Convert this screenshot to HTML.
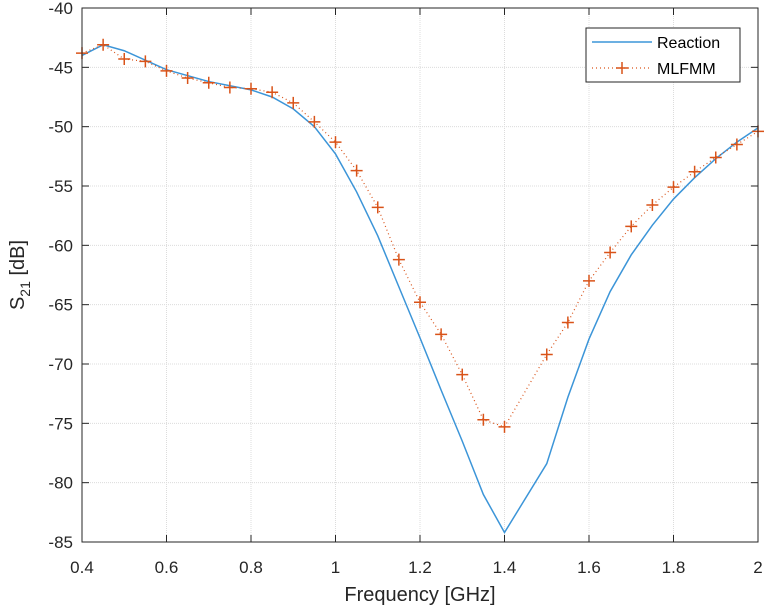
<!DOCTYPE html>
<html><head><meta charset="utf-8"><style>
body{margin:0;background:#fff;}
svg{display:block;font-family:"Liberation Sans",sans-serif;}
</style></head><body>
<svg id="chart" width="768" height="610">
<rect x="82" y="8" width="676" height="534" fill="#fff"/>
<g id="grid"></g>
<g id="series"></g>
<rect x="82" y="8" width="676" height="534" fill="none" stroke="#262626" stroke-width="1"/>
<g id="ticks"></g>
<text x="420" y="601" text-anchor="middle" font-size="20" fill="#262626">Frequency [GHz]</text>
<text transform="translate(24,275) rotate(-90)" text-anchor="middle" font-size="20" fill="#262626">S<tspan font-size="14" dy="6">21</tspan><tspan dy="-6"> [dB]</tspan></text>
<g>
<rect x="586" y="28" width="154" height="54" fill="#fff" stroke="#262626" stroke-width="1"/>
<line x1="592" y1="42" x2="652" y2="42" stroke="#3C95D8" stroke-width="1.5"/>
<text x="657" y="48" font-size="16" fill="#000">Reaction</text>
<line x1="592" y1="68" x2="652" y2="68" stroke="#D95319" stroke-width="1.2" stroke-dasharray="1,3"/>
<path d="M616 68h12M622 62v12" stroke="#D95319" stroke-width="1.5"/>
<text x="657" y="74" font-size="16" fill="#000">MLFMM</text>
</g>
</svg>
<script>
const reactionX=[0.4,0.45,0.5,0.6,0.7,0.8,0.85,0.9,0.95,1.0,1.05,1.1,1.15,1.2,1.25,1.3,1.35,1.4,1.5,1.55,1.6,1.65,1.7,1.75,1.8,1.85,1.9,1.95,2.0];
const reactionY=[-44,-43.1,-43.6,-45.2,-46.2,-46.9,-47.5,-48.5,-50,-52.3,-55.5,-59.2,-63.5,-67.8,-72.2,-76.5,-81,-84.2,-78.4,-72.8,-67.9,-63.9,-60.8,-58.3,-56.1,-54.3,-52.7,-51.3,-50.1];
const mlfmmX=[0.4,0.45,0.5,0.55,0.6,0.65,0.7,0.75,0.8,0.85,0.9,0.95,1.0,1.05,1.1,1.15,1.2,1.25,1.3,1.35,1.4,1.5,1.55,1.6,1.65,1.7,1.75,1.8,1.85,1.9,1.95,2.0];
const mlfmmY=[-43.8,-43.1,-44.3,-44.5,-45.3,-45.9,-46.3,-46.7,-46.8,-47.1,-48,-49.6,-51.3,-53.7,-56.8,-61.2,-64.8,-67.5,-70.9,-74.7,-75.3,-69.2,-66.5,-63,-60.6,-58.4,-56.6,-55.1,-53.8,-52.6,-51.5,-50.4];
const xTicks=[0.4,0.6,0.8,1,1.2,1.4,1.6,1.8,2];
const xTickLabels=["0.4","0.6","0.8","1","1.2","1.4","1.6","1.8","2"];
const yTicks=[-40,-45,-50,-55,-60,-65,-70,-75,-80,-85];
const yTickLabels=["-40","-45","-50","-55","-60","-65","-70","-75","-80","-85"];
const NS="http://www.w3.org/2000/svg";
const X0=82,X1=758,Y0=8,Y1=542;
function sx(v){return X0+(v-0.4)/(2-0.4)*(X1-X0);}
function sy(v){return Y0+(-40-v)/45*(Y1-Y0);}
function mk(t,a,p){const e=document.createElementNS(NS,t);for(const k in a)e.setAttribute(k,a[k]);p.appendChild(e);return e;}
const grid=document.getElementById('grid'),ticks=document.getElementById('ticks'),ser=document.getElementById('series');
xTicks.forEach((v,i)=>{
 const g=mk('line',{x1:sx(v),x2:sx(v),y1:Y0,y2:Y1,stroke:'#dcdcdc','stroke-dasharray':'1,1'},grid);
 
 
 const t1=mk('line',{x1:sx(v),x2:sx(v),y1:Y1,y2:Y1-7,stroke:'#262626'},ticks);
 
 
 const t2=mk('line',{x1:sx(v),x2:sx(v),y1:Y0,y2:Y0+7,stroke:'#262626'},ticks);
 
 
 const l=mk('text',{x:sx(v),y:573,'text-anchor':'middle','font-size':'17',fill:'#262626'},ticks);
 l.textContent=xTickLabels[i];
 
 
});
yTicks.forEach((v,i)=>{
 const g=mk('line',{x1:X0,x2:X1,y1:sy(v),y2:sy(v),stroke:'#dcdcdc','stroke-dasharray':'1,1'},grid);
 
 
 const t1=mk('line',{x1:X0,x2:X0+7,y1:sy(v),y2:sy(v),stroke:'#262626'},ticks);
 
 
 const t2=mk('line',{x1:X1,x2:X1-7,y1:sy(v),y2:sy(v),stroke:'#262626'},ticks);
 
 
 const l=mk('text',{x:73,y:sy(v)+6,'text-anchor':'end','font-size':'17',fill:'#262626'},ticks);
 l.textContent=yTickLabels[i];
 
 
});
const rl=mk('polyline',{points:reactionX.map((x,i)=>sx(x)+','+sy(reactionY[i])).join(' '),fill:'none',stroke:'#3C95D8','stroke-width':'1.5'},ser);


const ml=mk('polyline',{points:mlfmmX.map((x,i)=>sx(x)+','+sy(mlfmmY[i])).join(' '),fill:'none',stroke:'#D95319','stroke-width':'1.2','stroke-dasharray':'1,3'},ser);


mlfmmX.forEach((x,i)=>{
 const px=sx(x),py=sy(mlfmmY[i]);
 const m=mk('path',{d:`M${px-6} ${py}h12M${px} ${py-6}v12`,stroke:'#D95319','stroke-width':'1.5'},ser);
 
 
});
</script>
</body></html>
